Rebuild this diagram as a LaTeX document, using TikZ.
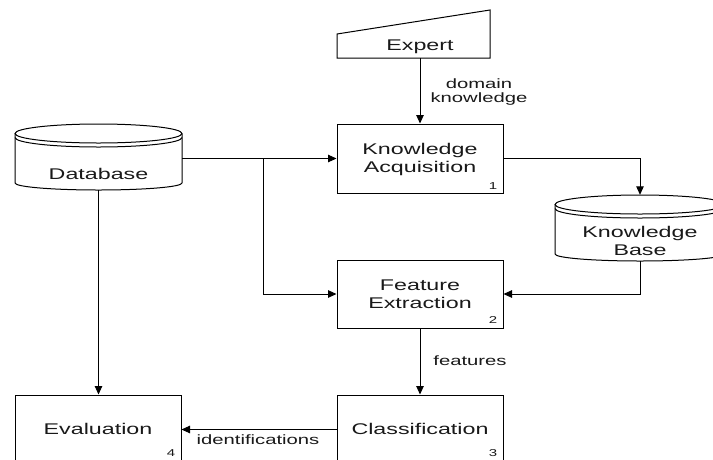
\documentclass[tikz,border=0pt]{standalone}
\usepackage{fontspec}
\setmainfont{Liberation Sans}[FakeStretch=1.5]
\usetikzlibrary{arrows.meta}
\newcommand\mycyl[4]{% left, right, top, bottom (pixels, y downward)
  \pgfmathsetmacro\cx{(#1+#2)/2}%
  \pgfmathsetmacro\rx{(#2-#1)/2}%
  \draw[plain] (\cx,{-(#3+9.5)}) ellipse [x radius=\rx, y radius=9.5];
  \draw[plain] (#1,{-(#3+13.5)}) arc [start angle=180, end angle=360, x radius=\rx, y radius=9.5];
  \draw[plain] (#1,{-(#3+9.5)}) -- (#1,{-(#4-7)}) arc [start angle=180, end angle=360, x radius=\rx, y radius=7] -- (#2,{-(#3+9.5)});
}
\begin{document}
\begin{tikzpicture}[x=1pt,y=1pt,
  plain/.style={line width=1pt},
  box/.style={draw, line width=1pt, inner sep=0pt, minimum width=166pt},
  ghost/.style={inner sep=0pt},
  lbl/.style={font=\fontsize{15.5}{18}\selectfont, align=center, text=black!90},
  small/.style={font=\fontsize{13.5}{14}\selectfont, align=center, text=black!90},
  num/.style={font=\fontsize{10}{10}\selectfont, text=black!90},
  conn/.style={line width=1pt, -{Triangle[length=8.5pt,width=7.5pt]}}]
\clip (0,0) rectangle (713,-459);
\fill[white] (0,0) rectangle (713,-459);

% Expert (manual input shape)
\draw[plain] (337,-34) -- (490,-10) -- (490,-58) -- (337,-58) -- cycle;
\node[lbl] (ex) at (420,-47) {Expert};
\coordinate (exb) at (420,-58);

% process boxes
\node[box, minimum height=69pt] (ka) at (420,-158.5) {};
\node[lbl] (kat) at (420,-159) {Knowledge\\Acquisition};
\node[num] (n1) at (493,-186) {1};

\node[box, minimum height=68pt] (fe) at (420,-294) {};
\node[lbl] (fet) at (420,-294) {Feature\\Extraction};
\node[num] (n2) at (493,-320) {2};

\node[box, minimum height=69pt] (cl) at (420,-429.5) {};
\node[lbl] (clt) at (420,-429) {Classification};
\node[num] (n3) at (493,-453) {3};

\node[box, minimum height=69pt] (ev) at (98,-429.5) {};
\node[lbl] (evt) at (98,-429) {Evaluation};
\node[num] (n4) at (171,-453) {4};

% data stores
\mycyl{15}{182}{124}{190}
\node[ghost, minimum width=167pt, minimum height=66pt] (db) at (98.5,-157) {};
\node[lbl] (dbt) at (98.5,-174) {Database};

\mycyl{555}{725}{195}{261}
\node[ghost, minimum width=170pt, minimum height=66pt] (kb) at (640,-228) {};
\node[lbl] (kbt) at (640,-241) {Knowledge\\Base};

% connectors
\draw[conn] (exb) -- (ka.north);
\node[small] (dk) at (479,-92) {domain\\knowledge};

\draw[conn] (db.east |- ka.west) -- (ka.west);
\coordinate (br) at (263,-158.5);
\draw[conn] (br) |- (fe.west);
\draw[conn] (ka.east) -| (kb.north);
\draw[conn] (kb.south) |- (fe.east);
\draw[conn] (fe.south) -- (cl.north);
\node[small] (ft) at (470,-361) {features};
\draw[conn] (db.south) -- (db.south |- ev.north);
\draw[conn] (cl.west) -- (ev.east);
\node[small] (id) at (258,-440) {identifications};
\end{tikzpicture}
\end{document}
